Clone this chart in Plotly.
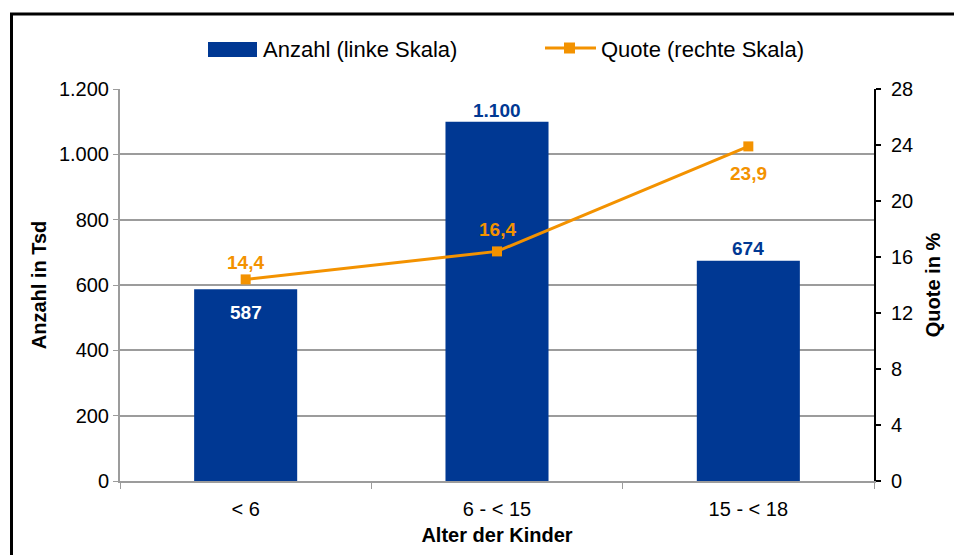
import plotly.graph_objects as go

categories = ["< 6", "6 - < 15", "15 - < 18"]
anzahl = [587, 1100, 674]
quote = [14.4, 16.4, 23.9]
left_ticks = [0, 200, 400, 600, 800, 1000, 1200]
right_ticks = [0, 4, 8, 12, 16, 20, 24, 28]

BLUE = "#003893"
ORANGE = "#F39200"
GRID = "#9C9C9C"
FONT = "Liberation Sans, Arial, sans-serif"

# page body has an 8px margin; figure is laid out in reference pixel coordinates minus this offset
O = 8
W, H = 962 - O, 555 - O
PLOT_L, PLOT_R, PLOT_T, PLOT_B = 120, 874, 89, 481  # reference pixel edges of plot area
L, T = PLOT_L - O, PLOT_T - O
R, B = W - (PLOT_R - O), H - (PLOT_B - O)
PW, PH = PLOT_R - PLOT_L, PLOT_B - PLOT_T


def px(x):
    return (x - PLOT_L) / PW


def py(y):
    return (PLOT_B - y) / PH


fig = go.Figure()
fig.add_trace(go.Bar(x=categories, y=anzahl, marker=dict(color=BLUE, line=dict(width=0)),
                     width=0.41, name="Anzahl (linke Skala)", showlegend=False, yaxis="y"))
fig.add_trace(go.Scatter(x=categories, y=quote, mode="lines+markers", yaxis="y2",
                         line=dict(color=ORANGE, width=3),
                         marker=dict(symbol="square", size=10, color=ORANGE),
                         name="Quote (rechte Skala)", showlegend=False))

annotations = []
bar_label_style = [(-23, "white"), (11, BLUE), (12, BLUE)]
for c, v, (shift, col) in zip(categories, anzahl, bar_label_style):
    annotations.append(dict(x=c, y=v, xref="x", yref="y", text=f"{v:,}".replace(",", "."),
                            showarrow=False, yanchor="middle", yshift=shift,
                            font=dict(family=FONT, size=19, color=col, weight="bold")))
line_label_shift = [17, 22, -27]
for c, v, shift in zip(categories, quote, line_label_shift):
    annotations.append(dict(x=c, y=v, xref="x", yref="y2", text=f"{v:.1f}".replace(".", ","),
                            showarrow=False, yanchor="middle", yshift=shift,
                            font=dict(family=FONT, size=19, color=ORANGE, weight="bold")))

# legend (custom)
annotations.append(dict(x=px(261), y=py(49), xref="paper", yref="paper", xanchor="left",
                        yanchor="middle", text="Anzahl (linke Skala)", showarrow=False,
                        font=dict(family=FONT, size=22, color="black")))
annotations.append(dict(x=px(599), y=py(49), xref="paper", yref="paper", xanchor="left",
                        yanchor="middle", text="Quote (rechte Skala)", showarrow=False,
                        font=dict(family=FONT, size=22, color="black")))

shapes = [
    dict(type="rect", xref="paper", yref="paper", x0=px(11.5), x1=px(990), y0=py(575), y1=py(14),
         line=dict(color="black", width=3), fillcolor="rgba(0,0,0,0)"),
    dict(type="rect", xref="paper", yref="paper", x0=px(208), x1=px(257), y0=py(57), y1=py(42),
         line=dict(width=0), fillcolor=BLUE),
    dict(type="line", xref="paper", yref="paper", x0=px(545), x1=px(596), y0=py(48), y1=py(48),
         line=dict(color=ORANGE, width=3)),
    dict(type="rect", xref="paper", yref="paper", x0=px(564), x1=px(575), y0=py(53.5), y1=py(42.5),
         line=dict(width=0), fillcolor=ORANGE),
]

fig.update_layout(
    width=W, height=H, autosize=False,
    margin=dict(l=L, r=R, t=T, b=B, pad=0),
    paper_bgcolor="white", plot_bgcolor="white",
    separators=",.",
    font=dict(family=FONT, size=20, color="black"),
    showlegend=False,
    annotations=annotations,
    shapes=shapes,
    xaxis=dict(type="category", showline=True, linecolor=GRID, linewidth=2,
               ticks="outside", tickson="boundaries", ticklen=6, tickcolor=GRID, tickwidth=1,
               tickfont=dict(size=20), showgrid=False, ticklabelstandoff=9,
               title=dict(text="<b>Alter der Kinder</b>", font=dict(size=20), standoff=9),
               automargin=False),
    yaxis=dict(range=[0, 1200], tickvals=left_ticks, tickformat=",d", showline=True,
               linecolor=GRID, linewidth=2, ticks="outside", ticklen=5, tickcolor=GRID,
               showgrid=True, gridcolor=GRID, gridwidth=1.5, zeroline=False,
               tickfont=dict(size=20),
               title=dict(text="<b>Anzahl in Tsd</b>", font=dict(size=20), standoff=7),
               automargin=False),
    yaxis2=dict(range=[0, 28], tickvals=right_ticks, overlaying="y", side="right",
                showline=True, linecolor="black", linewidth=2, ticks="outside", ticklen=5,
                tickcolor="black", tickwidth=2, showgrid=False, zeroline=False,
                tickfont=dict(size=20), ticklabelstandoff=6,
                title=dict(text="<b>Quote in %</b>", font=dict(size=20), standoff=14),
                automargin=False),
)

fig.write_html("out.html")
